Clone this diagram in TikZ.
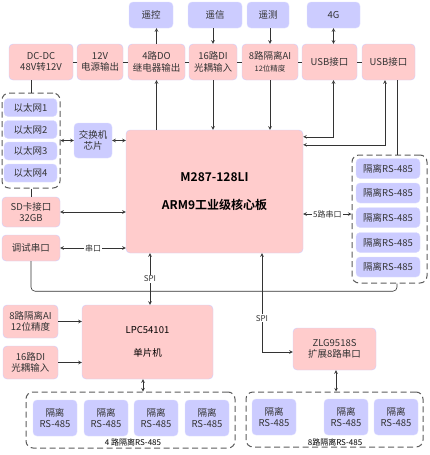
\documentclass[tikz,border=0pt]{standalone}
\usepackage{fontspec}
\setmainfont{Noto Sans CJK SC}[BoldFont={Noto Sans CJK SC Bold}]
\definecolor{pinkfill}{HTML}{FFCCCC}
\definecolor{bluefill}{HTML}{CCCCFF}
\definecolor{paleline}{HTML}{DDDDFF}
\definecolor{linegray}{HTML}{333333}
\begin{document}
\begin{tikzpicture}
    [x=1pt,y=-1pt,font=\fontsize{9.5}{11.5}\selectfont,
     pk/.style={shape=rectangle,rounded corners=4pt,fill=pinkfill,draw=bluefill,align=center,inner sep=1pt,text=linegray},
     bl/.style={shape=rectangle,rounded corners=4pt,fill=bluefill,draw=paleline,align=center,inner sep=1pt,text=linegray},
     top/.style={bl,minimum height=26pt},
     row/.style={pk,minimum height=36pt},
     grp/.style={shape=rectangle,rounded corners=7pt,draw=linegray!80,line width=1pt,dash pattern=on 6pt off 3.5pt},
     lbl/.style={fill=white,inner sep=1pt,font=\fontsize{8}{9}\selectfont,text=linegray},
     wire/.style={draw=linegray,semithick},
     pre/.style={->,>=stealth,semithick,draw=linegray},
     bi/.style={<->,>=stealth,semithick,draw=linegray}]
    \useasboundingbox (0,0) rectangle (430,455);
    % top row
    \node [top,minimum width=44pt] (yk) at (151,15) {遥控};
    \node [top,minimum width=54pt] (yx) at (215,15) {遥信};
    \node [top,minimum width=42pt] (yc) at (268,15) {遥测};
    \node [top,minimum width=53pt] (g4) at (333.5,15) {4G};
    % power and io row
    \node [row,minimum width=64pt] (dcdc) at (41,62) {DC-DC\\48V转12V};
    \node [row,minimum width=46pt] (v12) at (100,62) {12V\\电源输出};
    \node [row,minimum width=57pt] (do) at (156.5,62) {4路DO\\继电器输出};
    \node [row,minimum width=48pt] (di) at (213,62) {16路DI\\光耦输入};
    \node [row,minimum width=56pt] (ai) at (270,62) {8路隔离AI\\{\fontsize{7.5}{9}\selectfont 12位精度}};
    \node [row,minimum width=55pt] (usb1) at (329.5,62) {USB接口};
    \node [row,minimum width=53pt] (usb2) at (388.5,62) {USB接口};
    % core board
    \node [pk,minimum width=177pt,minimum height=123pt,font=\bfseries\fontsize{12}{14}\selectfont,text=black] (core) at (214.5,191.5) {M287-128LI\\[14pt]ARM9工业级核心板};
    % ethernet
    \node [grp,minimum width=58pt,minimum height=95pt] (eth) at (31,140.5) {};
    \foreach \i/\y in {1/107.5,2/129.5,3/151,4/173}
      \node [bl,minimum width=53pt,minimum height=18pt] (eth\i) at (30.5,\y) {以太网\i};
    \node [bl,minimum width=38pt,minimum height=35pt] (sw) at (93,140.5) {交换机\\芯片};
    \node [pk,minimum width=58pt,minimum height=30pt] (sd) at (31,212) {SD卡接口\\32GB};
    \node [pk,minimum width=58pt,minimum height=26pt] (dbg) at (31,248) {调试串口};
    % rs-485 on the core
    \node [grp,minimum width=75pt,minimum height=128pt] (rsg) at (389.5,219) {};
    \foreach \i/\y in {1/168.5,2/193,3/217.5,4/242.5,5/267}
      \node [bl,minimum width=64pt,minimum height=20pt] (rs\i) at (388,\y) {隔离RS-485};
    % mcu
    \node [pk,minimum width=131pt,minimum height=74pt,text=black] (lpc) at (147.5,342) {LPC54101\\[12pt]单片机};
    \node [pk,minimum width=55pt,minimum height=33pt] (ai2) at (30.5,321.5) {8路隔离AI\\12位精度};
    \node [pk,minimum width=55pt,minimum height=33pt] (di2) at (30.5,362.5) {16路DI\\光耦输入};
    \node [grp,minimum width=209pt,minimum height=56pt] (lg) at (130.5,420) {};
    \foreach \i/\x in {1/55,2/106,3/156,4/207}
      \node [bl,minimum width=44pt,minimum height=36pt] (l\i) at (\x,418) {隔离\\RS-485};
    \node [font=\fontsize{8}{9}\selectfont,inner sep=0pt] (lgt) at (133,442) {4 路隔离RS-485};
    % serial expander
    \node [pk,minimum width=83pt,minimum height=42pt] (zlg) at (334.5,349) {ZLG9518S\\扩展8路串口};
    \node [grp,minimum width=177pt,minimum height=55pt] (rg) at (334.5,419.5) {};
    \foreach \i/\x in {1/274,2/346,3/396}
      \node [bl,minimum width=44pt,minimum height=36pt] (r\i) at (\x,417) {隔离\\RS-485};
    \node [font=\fontsize{8}{9}\selectfont,inner sep=0pt] (rgt) at (335,442) {8路隔离RS-485};
    % connectors
    \foreach \a/\b in {dcdc/v12,v12/do,do/di,di/ai,ai/usb1,usb1/usb2}
      \draw [wire] (\a) -- (\b);
    \draw [wire] (eth.north) -- (eth.north |- dcdc.south);
    \draw [wire] (eth.south) -- (sd.north);
    \draw [pre] (do.north) -- (do.north |- yk.south);
    \draw [pre] (di.north |- yx.south) -- (di.north);
    \draw [pre] (ai.north |- yc.south) -- (ai.north);
    \draw [bi] (g4.south) -- (g4.south |- usb1.north);
    \draw [pre] (do.south |- core.north) -- (do.south);
    \draw [pre] (di.south) -- (di.south |- core.north);
    \draw [pre] (ai.south) -- (ai.south |- core.north);
    \draw [bi] (g4.south |- usb1.south) |- ([yshift=-7pt]core.north east);
    \draw [bi] ([xshift=-3.5pt]usb2.south) |- ([yshift=-15pt]core.north east);
    \draw [wire] ([xshift=8.5pt]usb2.south) -- ([xshift=8.5pt]usb2.south |- rsg.north);
    \draw [bi] (eth) -- (sw);
    \draw [bi] (sw) -- (sw -| core.west);
    \draw [bi] (sd) -- (sd -| core.west);
    \draw [bi] (dbg) -- node[lbl] {串口} (dbg -| core.west);
    \draw [wire,rounded corners=4pt] (dbg.south) -- ++(0,30) -| ([xshift=7.5pt]rsg.south);
    \draw [bi] (core.east |- 0,214) -- node[lbl] {5路串口} (rsg.west |- 0,214);
    \draw [bi] (core.south -| 150,0) -- node[lbl] {SPI} (lpc.north -| 150,0);
    \draw [bi] ([yshift=-3pt]zlg.west) -| node[lbl,pos=0.67] {SPI} (core.south -| 262,0);
    \draw [pre] (ai2) -- (ai2 -| lpc.west);
    \draw [pre] (di2) -- (di2 -| lpc.west);
    \draw [bi] (lpc.south -| 143,0) -- (lg.north -| 143,0);
    \draw [bi] (zlg.south -| 336,0) -- (rg.north -| 336,0);
\end{tikzpicture}
\end{document}
